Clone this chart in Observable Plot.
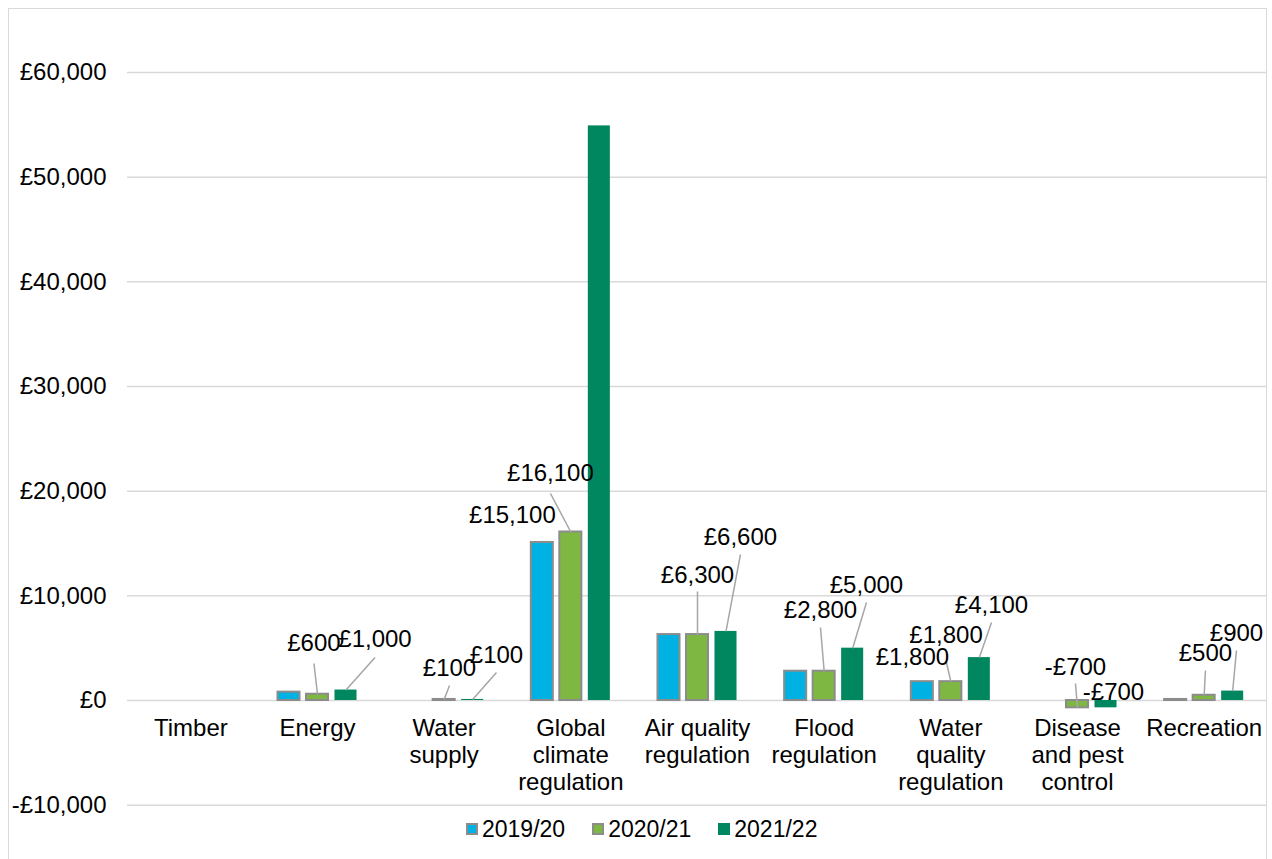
<!DOCTYPE html>
<html>
<head>
<meta charset="utf-8">
<script src="https://cdn.jsdelivr.net/npm/d3@7"></script>
<script src="https://cdn.jsdelivr.net/npm/@observablehq/plot@0.6"></script>
<style>
  html, body { margin: 0; padding: 0; background: #fff; }
  body { width: 1272px; height: 859px; position: relative; overflow: hidden; font-family: "Liberation Sans", Arial, sans-serif; }
  #frame { position: absolute; left: 8px; top: 8px; width: 1259px; height: 860px; border: 1.5px solid #d9d9d9; box-sizing: border-box; }
  #chart { position: absolute; left: 0; top: 0; }
  #legend { position: absolute; left: 466px; top: 814px; height: 30px; display: flex; align-items: center; font-size: 23px; color: #000; }
  .item { display: flex; align-items: center; margin-right: 27px; }
  .sw { width: 12px; height: 12px; box-sizing: border-box; margin-right: 4px; }
</style>
</head>
<body>
<div id="frame"></div>
<div id="chart"></div>
<div id="legend"></div>
<script>
// ---- data ----
const categories = ["Timber", "Energy", "Water supply", "Global climate regulation", "Air quality regulation", "Flood regulation", "Water quality regulation", "Disease and pest control", "Recreation"];
const categoryLabels = ["Timber", "Energy", "Water\nsupply", "Global\nclimate\nregulation", "Air quality\nregulation", "Flood\nregulation", "Water\nquality\nregulation", "Disease\nand pest\ncontrol", "Recreation"];
const seriesNames = ["2019/20", "2020/21", "2021/22"];
const values2019 = [null, 800, null, 15100, 6300, 2800, 1800, null, 100];
const values2020 = [null, 600, 100, 16100, 6300, 2800, 1800, -700, 500];
const values2021 = [null, 1000, 100, 54900, 6600, 5000, 4100, -700, 900];
const yTicks = [-10000, 0, 10000, 20000, 30000, 40000, 50000, 60000];

// data-label placement (category index, series index, label x offset in category units, label y, leader top y or null)
const labelLayout = [
  [1, 1, -0.028, 5446, 3535],
  [1, 2, 0.454, 5828, 4108],
  [2, 1, 0.042, 3057, 1433],
  [2, 2, 0.413, 4299, 2675],
  [3, 0, -0.461, 17675, null],
  [3, 1, -0.161, 21688, 19777],
  [4, 1, 0.000, 11943, 10414],
  [4, 2, 0.339, 15573, 13949],
  [5, 1, -0.029, 8599, 6974],
  [5, 2, 0.334, 10987, 9363],
  [6, 0, -0.303, 4108, null],
  [6, 1, -0.038, 6210, 3822],
  [6, 2, 0.321, 9076, 7452],
  [7, 1, -0.016, 3153, 1624],
  [7, 2, 0.284, 764, null],
  [8, 1, 0.010, 4490, 2866],
  [8, 2, 0.255, 6401, 4777]
];

// ---- styling ----
const fills = ["#00B2E3", "#7EB843", "#00875F"];
const strokes = ["#8C8C8C", "#8C8C8C", "none"];
const seriesValues = [values2019, values2020, values2021];
const offsets = [-0.225, 0, 0.225];
const halfWidth = 0.087;

const money = v => (v < 0 ? "-£" : "£") + d3.format(",")(Math.abs(v));

const rows = [];
seriesValues.forEach((vals, s) => vals.forEach((v, i) => { if (v !== null) rows.push({cat: i, series: s, value: v}); }));

const labels = labelLayout.map(([c, s, lx, ly, lt]) => ({
  cat: c, series: s, value: seriesValues[s][c], lx: c + lx, ly, lt, bx: c + offsets[s]
}));

const cats = categories.map((c, i) => ({i, label: categoryLabels[i]}));

const marks = [
  Plot.gridY(yTicks, {stroke: "#d9d9d9", strokeOpacity: 1, strokeWidth: 1.5}),
  Plot.axisY(yTicks, {tickFormat: money, tickSize: 0, tickPadding: 21, fontSize: 24, fill: "#000"}),
  ...[0, 1, 2].map(s => Plot.rectY(rows.filter(d => d.series === s), {
    x1: d => d.cat + offsets[s] - halfWidth,
    x2: d => d.cat + offsets[s] + halfWidth,
    y1: 0, y2: "value",
    fill: fills[s], stroke: strokes[s], strokeWidth: 2
  })),
  Plot.link(labels.filter(d => d.lt !== null), {
    x1: "lx", y1: "lt", x2: "bx", y2: "value",
    stroke: "#A6A6A6", strokeWidth: 1.5
  }),
  Plot.text(labels, {x: "lx", y: "ly", text: d => money(d.value), fontSize: 24, fill: "#000"}),
  Plot.text(cats, {x: "i", y: () => 0, text: "label", lineAnchor: "top", dy: 16, lineHeight: 1.13, fontSize: 24, fill: "#000"})
];

const chart = Plot.plot({
  width: 1272,
  height: 815,
  marginTop: 72,
  marginBottom: 10.33,
  marginLeft: 127,
  marginRight: 5,
  x: {type: "linear", domain: [-0.5, 8.5], axis: null},
  y: {domain: [-10000, 60000], axis: null},
  style: {fontFamily: "'Liberation Sans', Arial, sans-serif", fontSize: "24px", background: "transparent", overflow: "visible"},
  marks
});
document.getElementById("chart").appendChild(chart);

// legend
const legend = document.getElementById("legend");
seriesNames.forEach((name, s) => {
  const item = document.createElement("div");
  item.className = "item";
  const sw = document.createElement("div");
  sw.className = "sw";
  sw.style.background = fills[s];
  if (strokes[s] !== "none") sw.style.border = "2px solid " + strokes[s];
  const t = document.createElement("span");
  t.textContent = name;
  item.appendChild(sw);
  item.appendChild(t);
  legend.appendChild(item);
});
</script>
</body>
</html>
